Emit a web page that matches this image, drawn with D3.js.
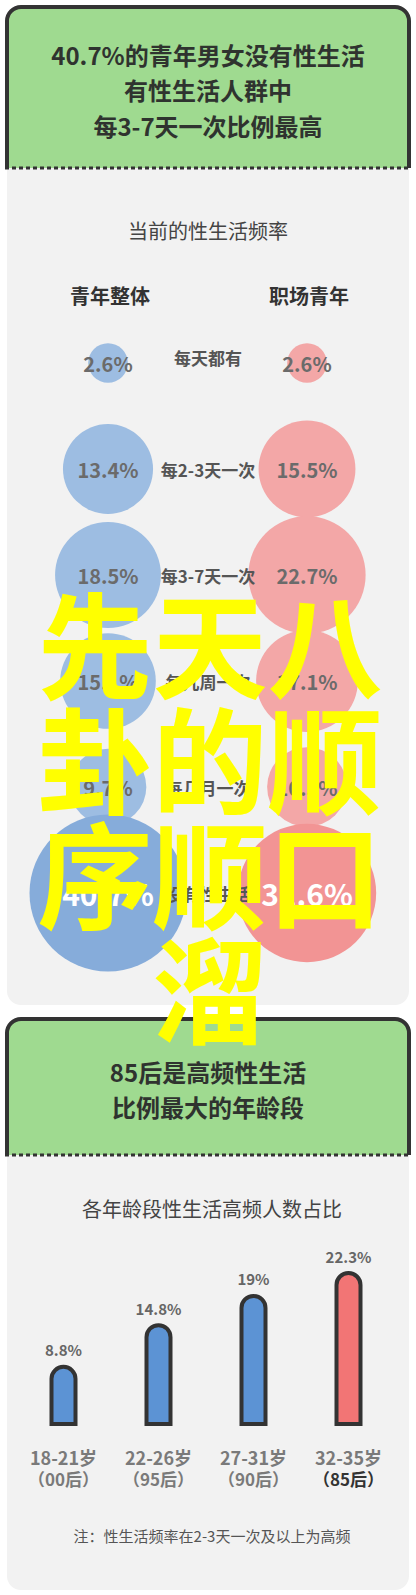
<!DOCTYPE html>
<html>
<head>
<meta charset="utf-8">
<script src="https://cdn.jsdelivr.net/npm/d3@7"></script>
<style>
  body { margin: 0; background: #fff; }
  text { font-family: "Noto Sans CJK SC", "Noto Sans", sans-serif; }
</style>
</head>
<body>
<div id="chart"></div>
<script>
'use strict';

// Data
var headline1 = ["40.7%的青年男女没有性生活", "有性生活人群中", "每3-7天一次比例最高"];
var subtitle1 = "当前的性生活频率";
var groups = ["青年整体", "职场青年"];
var frequencies = ["每天都有", "每2-3天一次", "每3-7天一次", "每几周一次", "每几月一次", "没有性生活"];
var youthAll = [2.6, 13.4, 18.5, 15.1, 9.7, 40.7];
var youthWork = [2.6, 15.5, 22.7, 17.1, 10.5, 31.6];

var headline2 = ["85后是高频性生活", "比例最大的年龄段"];
var subtitle2 = "各年龄段性生活高频人数占比";
var ageRanges = ["18-21岁", "22-26岁", "27-31岁", "32-35岁"];
var generations = ["（00后）", "（95后）", "（90后）", "（85后）"];
var highFreqShare = [8.8, 14.8, 19, 22.3];
var footnote = "注：性生活频率在2-3天一次及以上为高频";

var overlay = ["先天八", "卦的顺", "序顺口", "溜"];

// Constants
var svgWidth = 416;
var svgHeight = 1595;
var cardLeft = 7;
var cardRight = 409;
var cornerR = 14;

var svg = d3.select("#chart").append("svg")
    .attr("width", svgWidth)
    .attr("height", svgHeight);

// Card with green header, dark border and dotted divider
function card(top, split, bottom, lines) {
  svg.append("rect")
      .attr("x", cardLeft)
      .attr("y", top)
      .attr("width", cardRight - cardLeft)
      .attr("height", bottom - top)
      .attr("rx", cornerR)
      .attr("fill", "#f2f2f2");

  var head = "M" + cardLeft + "," + split +
      "V" + (top + cornerR) +
      "A" + cornerR + "," + cornerR + " 0 0 1 " + (cardLeft + cornerR) + "," + top +
      "H" + (cardRight - cornerR) +
      "A" + cornerR + "," + cornerR + " 0 0 1 " + cardRight + "," + (top + cornerR) +
      "V" + split;

  svg.append("path")
      .attr("d", head)
      .attr("fill", "#9fda90")
      .attr("stroke", "#333")
      .attr("stroke-width", 4);

  svg.append("line")
      .attr("x1", cardLeft - 2)
      .attr("x2", cardRight + 2)
      .attr("y1", split)
      .attr("y2", split)
      .attr("stroke", "#333")
      .attr("stroke-width", 3)
      .attr("stroke-dasharray", "4,3");

  var mid = (top + split) / 2 + 2;
  var lineH = 35.5;
  svg.append("g").selectAll("text")
    .data(lines)
    .enter().append("text")
      .attr("x", svgWidth / 2)
      .attr("y", function(d, i) { return mid + (i - (lines.length - 1) / 2) * lineH; })
      .attr("text-anchor", "middle")
      .attr("dominant-baseline", "central")
      .attr("font-size", 24)
      .attr("font-weight", "bold")
      .attr("fill", "#2f332f")
      .text(function(d) { return d; });
}

// ---------- Card 1: bubbles ----------
card(7, 168, 1005, headline1);

svg.append("text")
    .attr("x", 208)
    .attr("y", 230)
    .attr("text-anchor", "middle")
    .attr("dominant-baseline", "central")
    .attr("font-size", 20)
    .attr("fill", "#444")
    .text(subtitle1);

var colScale = d3.scalePoint()
    .domain(groups)
    .range([108, 307]);

var rowScale = d3.scalePoint()
    .domain(frequencies)
    .range([363, 893]);

var rScale = d3.scaleSqrt()
    .domain([0, 40.7])
    .range([0, 78.5]);

svg.append("g").selectAll("text")
  .data(groups)
  .enter().append("text")
    .attr("x", function(d) { return colScale(d) + 2; })
    .attr("y", 295)
    .attr("text-anchor", "middle")
    .attr("dominant-baseline", "central")
    .attr("font-size", 20)
    .attr("font-weight", "bold")
    .attr("fill", "#333")
    .text(function(d) { return d; });

var lastFreq = frequencies[frequencies.length - 1];
var series = [
  { group: groups[0], values: youthAll, light: "#9dbde2", dark: "#86acda" },
  { group: groups[1], values: youthWork, light: "#f3a7a7", dark: "#f29494" }
];

series.forEach(function(s) {
  var rows = frequencies.map(function(f, i) { return { freq: f, value: s.values[i] }; });
  var g = svg.append("g");

  g.selectAll("circle")
    .data(rows)
    .enter().append("circle")
      .attr("cx", colScale(s.group))
      .attr("cy", function(d) { return rowScale(d.freq); })
      .attr("r", function(d) { return rScale(d.value); })
      .attr("fill", function(d) { return d.freq === lastFreq ? s.dark : s.light; });

  g.selectAll("text")
    .data(rows)
    .enter().append("text")
      .attr("x", colScale(s.group))
      .attr("y", function(d) { return rowScale(d.freq); })
      .attr("text-anchor", "middle")
      .attr("dominant-baseline", "central")
      .attr("font-size", function(d) { return d.freq === lastFreq ? 30 : 20; })
      .attr("font-weight", "bold")
      .attr("fill", function(d) { return d.freq === lastFreq ? "#fff" : "#6b6b6b"; })
      .text(function(d) { return d.value + "%"; });
});

svg.append("g").selectAll("text")
  .data(frequencies)
  .enter().append("text")
    .attr("x", 208)
    .attr("y", function(d, i) { return rowScale(d) - (i === 0 ? 6 : 0); })
    .attr("text-anchor", "middle")
    .attr("dominant-baseline", "central")
    .attr("font-size", 17)
    .attr("font-weight", "bold")
    .attr("fill", "#555")
    .text(function(d) { return d; });

// ---------- Card 2: bars ----------
card(1019, 1155, 1590, headline2);

svg.append("text")
    .attr("x", 212)
    .attr("y", 1208)
    .attr("text-anchor", "middle")
    .attr("dominant-baseline", "central")
    .attr("font-size", 20)
    .attr("fill", "#444")
    .text(subtitle2);

var xScale = d3.scaleBand()
    .domain(ageRanges)
    .range([16, 396]);

var yScale = d3.scaleLinear()
    .domain([0, 22.3])
    .range([1426, 1271]);

var barW = 24;
var bars = ageRanges.map(function(a, i) { return { age: a, gen: generations[i], value: highFreqShare[i] }; });
var lastAge = ageRanges[ageRanges.length - 1];

function barPath(d) {
  var cx = xScale(d.age) + xScale.bandwidth() / 2;
  var top = yScale(d.value) + 2;
  var bottom = yScale(0) - 2;
  var r = barW / 2;
  return "M" + (cx - r) + "," + bottom +
      "V" + (top + r) +
      "A" + r + "," + r + " 0 0 1 " + (cx + r) + "," + (top + r) +
      "V" + bottom + "Z";
}

var barG = svg.append("g");

barG.selectAll("path")
  .data(bars)
  .enter().append("path")
    .attr("d", barPath)
    .attr("fill", function(d) { return d.age === lastAge ? "#f27575" : "#5c93d4"; })
    .attr("stroke", "#333")
    .attr("stroke-width", 4);

barG.selectAll("text.value")
  .data(bars)
  .enter().append("text")
    .attr("class", "value")
    .attr("x", function(d) { return xScale(d.age) + xScale.bandwidth() / 2; })
    .attr("y", function(d) { return yScale(d.value) - 15; })
    .attr("text-anchor", "middle")
    .attr("dominant-baseline", "central")
    .attr("font-size", 15)
    .attr("font-weight", "bold")
    .attr("fill", "#666")
    .text(function(d) { return d.value + "%"; });

barG.selectAll("text.age")
  .data(bars)
  .enter().append("text")
    .attr("class", "age")
    .attr("x", function(d) { return xScale(d.age) + xScale.bandwidth() / 2; })
    .attr("y", 1457)
    .attr("text-anchor", "middle")
    .attr("dominant-baseline", "central")
    .attr("font-size", 18)
    .attr("font-weight", "bold")
    .attr("fill", "#7a7a7a")
    .text(function(d) { return d.age; });

barG.selectAll("text.gen")
  .data(bars)
  .enter().append("text")
    .attr("class", "gen")
    .attr("x", function(d) { return xScale(d.age) + xScale.bandwidth() / 2; })
    .attr("y", 1478)
    .attr("text-anchor", "middle")
    .attr("dominant-baseline", "central")
    .attr("font-size", 17)
    .attr("font-weight", "bold")
    .attr("fill", function(d) { return d.age === lastAge ? "#333" : "#7a7a7a"; })
    .text(function(d) { return d.gen; });

svg.append("text")
    .attr("x", 212)
    .attr("y", 1535)
    .attr("text-anchor", "middle")
    .attr("dominant-baseline", "central")
    .attr("font-size", 15)
    .attr("fill", "#555")
    .text(footnote);

// ---------- Yellow overlay text ----------
svg.append("g").selectAll("text")
  .data(overlay)
  .enter().append("text")
    .attr("x", 210)
    .attr("y", function(d, i) { return 640 + i * 115; })
    .attr("text-anchor", "middle")
    .attr("dominant-baseline", "central")
    .attr("font-size", 115)
    .attr("font-weight", "bold")
    .attr("fill", "#ffff00")
    .text(function(d) { return d; });
</script>
</body>
</html>
